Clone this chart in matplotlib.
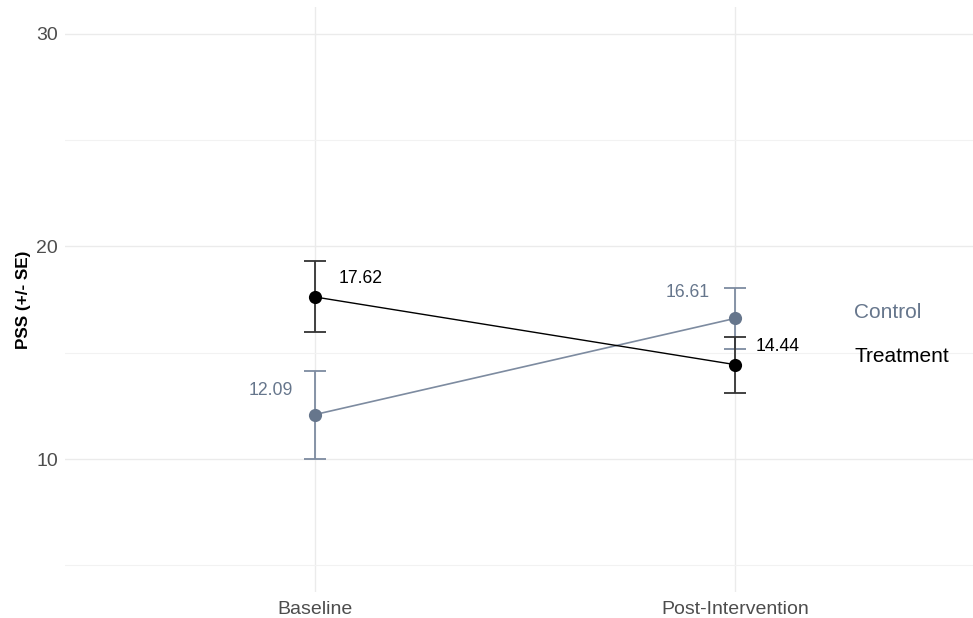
import matplotlib.pyplot as plt
from matplotlib.ticker import MultipleLocator

# PSS means and standard errors per group
times = ['Baseline', 'Post-Intervention']
control_mean = [12.09, 16.61]
control_se = [2.07, 1.42]
treatment_mean = [17.62, 14.44]
treatment_se = [1.67, 1.32]

ctrl_col = '#66768c'
ctrl_line = '#7d8ba0'
treat_col = '#000000'

plt.rcParams['font.family'] = ['Liberation Sans', 'DejaVu Sans']

fig = plt.figure(figsize=(9.73, 6.18), dpi=100)
ax = fig.add_axes([65 / 973, 26 / 618, 908 / 973, 585 / 618])

x = [1, 2]

# error bars first, then lines and points on top
ax.errorbar(x, control_mean, yerr=control_se, fmt='none', ecolor=ctrl_line,
            elinewidth=1.3, capsize=8, capthick=1.3, zorder=3)
ax.errorbar(x, treatment_mean, yerr=treatment_se, fmt='none', ecolor='#333333',
            elinewidth=1.3, capsize=8, capthick=1.3, zorder=3)
ax.plot(x, control_mean, color=ctrl_line, lw=1.2, zorder=4)
ax.plot(x, treatment_mean, color=treat_col, lw=1.0, zorder=4)
ax.scatter(x, control_mean, s=90, color=ctrl_col, zorder=5, linewidths=0)
ax.scatter(x, treatment_mean, s=90, color=treat_col, zorder=5, linewidths=0)

# value labels
lbl = dict(textcoords='offset points', ha='center', va='center', fontsize=12.7)
ax.annotate(f'{treatment_mean[0]:.2f}', (1, treatment_mean[0]), xytext=(33, 13), color='#000000', **lbl)
ax.annotate(f'{treatment_mean[1]:.2f}', (2, treatment_mean[1]), xytext=(31, 13), color='#000000', **lbl)
ax.annotate(f'{control_mean[0]:.2f}', (1, control_mean[0]), xytext=(-32, 17), color=ctrl_col, **lbl)
ax.annotate(f'{control_mean[1]:.2f}', (2, control_mean[1]), xytext=(-34, 19), color=ctrl_col, **lbl)

# group names at the end of each line
ax.annotate('Control', (2, control_mean[1]), xytext=(86, 4), textcoords='offset points',
            ha='left', va='center', fontsize=15, color=ctrl_col)
ax.annotate('Treatment', (2, treatment_mean[1]), xytext=(86, 6), textcoords='offset points',
            ha='left', va='center', fontsize=15, color=treat_col)

ax.set_xlim(0.405, 2.567)
ax.set_ylim(3.75, 31.25)
ax.set_xticks(x)
ax.set_xticklabels(times)
ax.yaxis.set_major_locator(MultipleLocator(10))
ax.yaxis.set_minor_locator(MultipleLocator(5))
ax.set_yticks([10, 20, 30])

ax.grid(which='major', color='#ebebeb', lw=1.0)
ax.grid(which='minor', axis='y', color='#f2f2f2', lw=0.8)
ax.set_axisbelow(True)
for s in ax.spines.values():
    s.set_visible(False)
ax.tick_params(which='both', length=0, labelsize=14, colors='#4d4d4d', pad=5)
ax.tick_params(axis='x', pad=6.5)

ax.set_ylabel('PSS (+/- SE)', fontsize=12.3, fontweight='bold', labelpad=4)

fig.savefig('out.png', dpi=100)
